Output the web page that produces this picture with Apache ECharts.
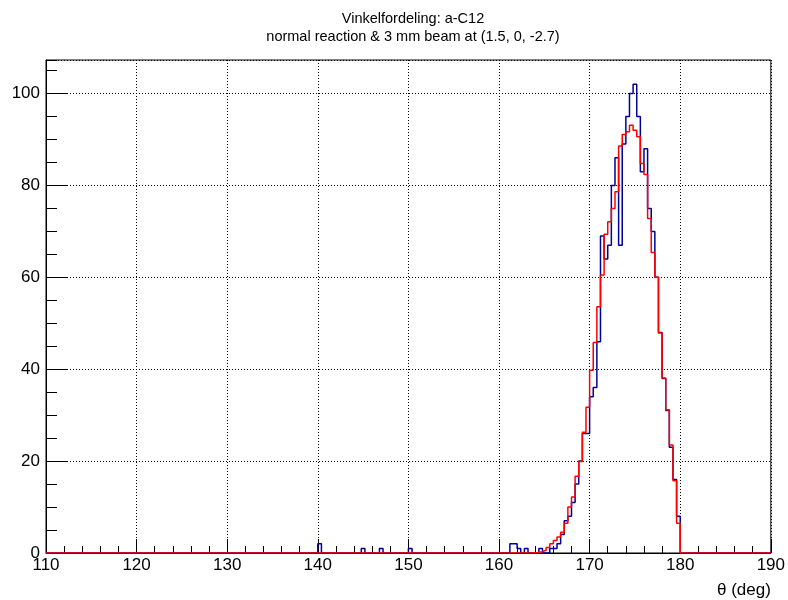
<!DOCTYPE html>
<html>
<head>
<meta charset="utf-8">
<script src="https://cdn.jsdelivr.net/npm/echarts@6/dist/echarts.min.js"></script>
<style>
  html, body { margin: 0; padding: 0; background: #fff; }
  #chart { width: 788px; height: 600px; }
</style>
</head>
<body>
<div id="chart"></div>
<script>
// histogram binning (deg)
var thetaMin = 110;
var thetaMax = 190;
var binWidth = 0.4;

// tick labels
var xTicks = [110, 120, 130, 140, 150, 160, 170, 180, 190];
var yTicks = [0, 20, 40, 60, 80, 100];

// isolated blue entries far from the peak: [theta, counts]
var blueSpikes = [[140.0, 2], [144.8, 1], [146.8, 1], [150.0, 1]];

// peak region, one value per bin starting at 160.0 deg
var peakStart = 160.0;
var blueCounts = [
    0, 0, 0, 2, 2, 1, 0, 1, 0, 0,
    0, 1, 0, 0, 1, 1, 2, 4, 7, 8,
    11, 15, 20, 26, 26, 34, 36, 46, 69, 64,
    67, 80, 86, 67, 89, 95, 100, 102, 95, 83,
    88, 75, 70, 60, 48, 38, 31, 23, 16, 8
];
var redCounts = [
    0, 0, 0, 0, 0, 0, 0, 0, 0, 0.05,
    0.1, 0.3, 0.6, 1.2, 2.0, 2.7, 3.5, 4.5, 6.5, 10.0,
    12.2, 16.7, 19.9, 26.3, 31.7, 39.8, 45.8, 53.6, 60.5, 69.4,
    72.1, 75.0, 78.6, 88.6, 91.1, 91.7, 93.1, 92.0, 90.6, 84.8,
    82.4, 72.8, 65.4, 60.0, 47.9, 38.1, 31.2, 23.5, 15.7, 6.5
];

// build the full 200-bin histogram as step points (left edges + closing point)
function buildHist(peak, spikes) {
    var nBins = Math.round((thetaMax - thetaMin) / binWidth);
    var h = [];
    for (var i = 0; i < nBins; i++) h.push(0);
    var p0 = Math.round((peakStart - thetaMin) / binWidth);
    for (var j = 0; j < peak.length; j++) h[p0 + j] = peak[j];
    for (var k = 0; k < spikes.length; k++) {
        h[Math.round((spikes[k][0] - thetaMin) / binWidth)] = spikes[k][1];
    }
    var pts = [];
    for (var b = 0; b < nBins; b++) {
        pts.push([+(thetaMin + b * binWidth).toFixed(2), h[b]]);
    }
    pts.push([thetaMax, h[nBins - 1]]);
    return pts;
}

var myChart = echarts.init(document.getElementById('chart'));
var font = 'Liberation Sans, Arial, Helvetica, sans-serif';
var dotted = { color: '#000', width: 1, type: [1, 2] };

var option = {
    animation: false,
    backgroundColor: '#fff',
    title: {
        text: 'Vinkelfordeling: a-C12\nnormal reaction & 3 mm beam at (1.5, 0, -2.7)',
        left: 408,
        top: 5,
        textAlign: 'center',
        textStyle: {
            fontFamily: font,
            fontSize: 14.5,
            fontWeight: 'normal',
            color: '#000',
            lineHeight: 18
        }
    },
    grid: {
        left: 46,
        top: 60,
        width: 725,
        height: 493,
        show: true,
        borderColor: '#000',
        borderWidth: 1,
        backgroundColor: 'transparent'
    },
    xAxis: {
        type: 'value',
        min: xTicks[0],
        max: xTicks[xTicks.length - 1],
        interval: 10,
        name: 'θ (deg)',
        nameLocation: 'end',
        nameGap: 0,
        nameTextStyle: {
            fontFamily: font,
            fontSize: 17,
            color: '#000',
            align: 'right',
            verticalAlign: 'top',
            padding: [29, 0, 0, 0]
        },
        axisLine: { show: true, lineStyle: { color: '#000', width: 1 } },
        axisTick: { show: true, inside: true, length: 14, lineStyle: { color: '#000' } },
        minorTick: { show: true, splitNumber: 5, length: 7, lineStyle: { color: '#000' } },
        axisLabel: {
            fontFamily: font,
            fontSize: 17,
            color: '#000',
            margin: 4
        },
        splitLine: { show: true, lineStyle: dotted }
    },
    yAxis: [{
        type: 'value',
        position: 'left',
        min: 0,
        max: 107.3,
        interval: 20,
        axisLine: { show: true, lineStyle: { color: '#000', width: 1 } },
        axisTick: { show: true, inside: true, length: 22, lineStyle: { color: '#000' } },
        axisLabel: {
            fontFamily: font,
            fontSize: 17,
            color: '#000',
            margin: 6,
            showMaxLabel: false,
            formatter: function (v) { return yTicks.indexOf(v) >= 0 ? String(v) : ''; }
        },
        splitLine: { show: true, lineStyle: dotted }
    }, {
        // minor ticks every 5 counts
        type: 'value',
        position: 'left',
        offset: 0,
        min: 0,
        max: 107.3,
        interval: 5,
        axisLine: { show: false },
        axisTick: { show: true, inside: true, length: 11, lineStyle: { color: '#000' } },
        axisLabel: { show: false },
        splitLine: { show: false }
    }],
    series: [{
        name: 'blue',
        type: 'line',
        step: 'end',
        showSymbol: false,
        xAxisIndex: 0,
        yAxisIndex: 0,
        lineStyle: { color: '#00009a', width: 1.5 },
        data: buildHist(blueCounts, blueSpikes)
    }, {
        name: 'red',
        type: 'line',
        step: 'end',
        showSymbol: false,
        xAxisIndex: 0,
        yAxisIndex: 0,
        lineStyle: { color: '#ff0000', width: 1.5 },
        data: buildHist(redCounts, [])
    }]
};

myChart.setOption(option);
</script>
</body>
</html>
